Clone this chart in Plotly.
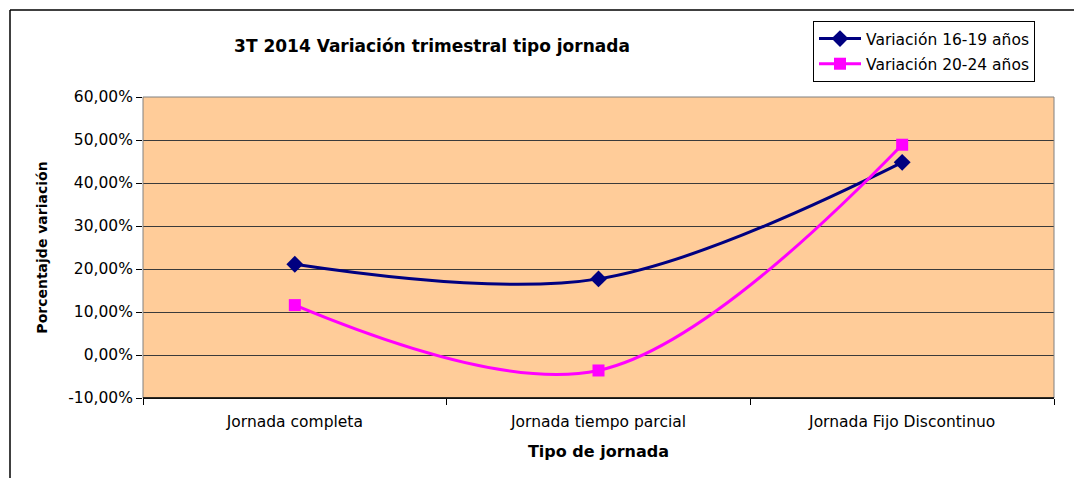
import plotly.graph_objects as go

categories = ["Jornada completa", "Jornada tiempo parcial", "Jornada Fijo Discontinuo"]
serie_16_19 = [0.211, 0.177, 0.448]
serie_20_24 = [0.116, -0.036, 0.489]
ytick_vals = [-0.10, 0.0, 0.10, 0.20, 0.30, 0.40, 0.50, 0.60]
ytick_text = ["-10,00%", "0,00%", "10,00%", "20,00%", "30,00%", "40,00%", "50,00%", "60,00%"]

W, H = 1074, 478
L, R, T, B = 143, 1054, 97, 398
pw, ph = R - L, B - T

def px_x(x):
    return (x - L) / pw

def px_y(y):
    return (B - y) / ph

FONT = "DejaVu Sans, Liberation Sans, Arial, sans-serif"

fig = go.Figure()
fig.add_trace(go.Scatter(
    x=categories, y=serie_16_19, name="Variación 16-19 años", legendgroup="a",
    mode="lines+markers", line=dict(color="#000080", width=3, shape="spline", smoothing=1),
    marker=dict(symbol="diamond", size=13, color="#000080"),
))
fig.add_trace(go.Scatter(
    x=categories, y=serie_20_24, name="Variación 20-24 años", legendgroup="b",
    mode="lines+markers", line=dict(color="#FF00FF", width=3, shape="spline", smoothing=1),
    marker=dict(symbol="square", size=12, color="#FF00FF"),
))

fig.update_layout(
    width=W, height=H,
    margin=dict(l=L, r=W - R, t=T, b=H - B, pad=0),
    paper_bgcolor="white", plot_bgcolor="#FFCC99",
    font=dict(family=FONT, size=15, color="black"),
    title=dict(text="<b>3T 2014 Variación trimestral tipo jornada</b>", x=432 / W, xanchor="center",
               y=1 - 46 / H, yanchor="middle", font=dict(size=17, family=FONT)),
    showlegend=True,
    legend=dict(x=px_x(813), y=px_y(21), xanchor="left", yanchor="top",
                bgcolor="white", bordercolor="black", borderwidth=1, itemwidth=42,
                font=dict(size=15.5, family=FONT), tracegroupgap=2),
    xaxis=dict(type="category", range=[-0.5, 2.5], tickson="boundaries", ticks="outside",
               ticklen=6, tickcolor="black", showline=True, linecolor="black", linewidth=1,
               showgrid=False, tickfont=dict(size=15.5), ticklabelstandoff=9,
               title=dict(text="<b>Tipo de jornada</b>", font=dict(size=16), standoff=16)),
    yaxis=dict(range=[-0.10, 0.60], tickvals=ytick_vals, ticktext=ytick_text, ticks="outside",
               ticklen=6, tickcolor="black", showline=False, showgrid=True, gridcolor="#3a3a3a",
               gridwidth=1, zeroline=False, tickfont=dict(size=15.5),
               title=dict(text="<b>Porcentajde variación</b>", font=dict(size=14), standoff=17)),
    shapes=[
        dict(type="rect", xref="paper", yref="paper", x0=0, x1=1, y0=0, y1=1,
             line=dict(color="#808080", width=1), layer="above"),
        dict(type="line", xref="paper", yref="paper", x0=0, x1=1, y0=0, y1=0,
             line=dict(color="black", width=1.5), layer="above"),
        dict(type="line", xref="paper", yref="paper", x0=px_x(10), x1=px_x(W + 5),
             y0=px_y(10), y1=px_y(10), line=dict(color="black", width=1.5)),
        dict(type="line", xref="paper", yref="paper", x0=px_x(10), x1=px_x(10),
             y0=px_y(10), y1=px_y(H + 5), line=dict(color="black", width=1.5)),
    ],
)

fig.write_html("out.html", config={"displayModeBar": False},
               post_script="document.body.style.margin='0';document.body.style.overflow='hidden';")
